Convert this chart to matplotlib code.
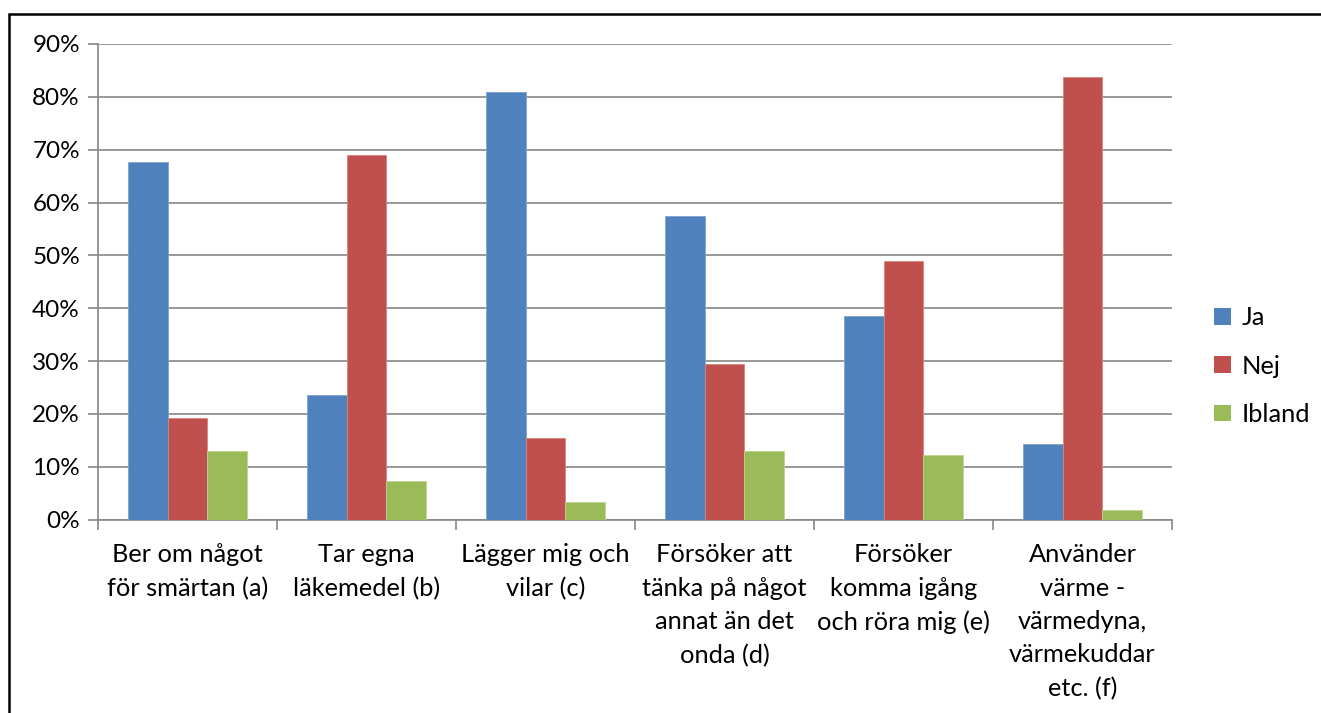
import matplotlib
matplotlib.use("Agg")
import matplotlib.pyplot as plt
import numpy as np
from matplotlib.patches import Rectangle

plt.rcParams['font.family'] = ['Lato', 'DejaVu Sans']

categories = [
    "Ber om något\nför smärtan (a)",
    "Tar egna\nläkemedel (b)",
    "Lägger mig och\nvilar (c)",
    "Försöker att\ntänka på något\nannat än det\nonda (d)",
    "Försöker\nkomma igång\noch röra mig (e)",
    "Använder\nvärme -\nvärmedyna,\nvärmekuddar\netc. (f)",
]
series_names = ["Ja", "Nej", "Ibland"]
ja = [67.7, 23.6, 80.9, 57.4, 38.5, 14.3]
nej = [19.3, 69.0, 15.5, 29.4, 48.9, 83.8]
ibland = [12.9, 7.2, 3.3, 13.0, 12.2, 1.8]
yticks = [0, 10, 20, 30, 40, 50, 60, 70, 80, 90]
colors = ["#4F81BD", "#C0504D", "#9BBB59"]
edge_colors = ["#7FA3D0", "#D88380", "#BCD48F"]

W, H = 1321, 713
fig = plt.figure(figsize=(W / 100, H / 100), dpi=100)
ax = fig.add_axes([98 / W, 1 - 519.5 / H, (1172 - 98) / W, (519.5 - 44) / H])

x = np.arange(len(categories))
width = 1 / 4.5
for i, (vals, name) in enumerate(zip([ja, nej, ibland], series_names)):
    ax.bar(x + (i - 1) * width, vals, width, color=colors[i], label=name,
           edgecolor=edge_colors[i], linewidth=0.6, zorder=3)

ax.set_xlim(-0.5, len(categories) - 0.5)
ax.set_ylim(0, 90)
ax.set_yticks(yticks)
ax.set_yticklabels([f"{v}%" for v in yticks], fontsize=17.5)
ax.yaxis.grid(True, color="#888888", linewidth=1.2, zorder=0)
ax.set_axisbelow(True)

ax.set_xticks(np.arange(-0.5, len(categories), 1))
ax.set_xticklabels([])
ax.set_xticks(x, minor=True)
ax.set_xticklabels(categories, minor=True, fontsize=18.3, linespacing=1.55, va="top")
ax.tick_params(axis="x", which="minor", length=0, pad=17)
ax.tick_params(axis="x", which="major", length=7, width=1.2, color="#888888", direction="out")
ax.tick_params(axis="y", length=7, width=1.2, color="#888888", direction="out", pad=6)

for s in ["top", "right"]:
    ax.spines[s].set_visible(False)
for s in ["left", "bottom"]:
    ax.spines[s].set_color("#888888")
    ax.spines[s].set_linewidth(1.2)

handles, labels = ax.get_legend_handles_labels()
leg = fig.legend(handles, labels, loc="center left",
                 bbox_to_anchor=(1214 / W, 1 - 366 / H), frameon=False,
                 fontsize=18.3, handlelength=0.65, handleheight=0.65,
                 handletextpad=0.45, labelspacing=1.0, borderpad=0,
                 borderaxespad=0)
for h in leg.legend_handles:
    h.set_edgecolor("none")

# outer chart frame
fig.add_artist(Rectangle((8.5 / W, -0.1), 1.2, 1 - 14.5 / H + 0.1,
                         transform=fig.transFigure, fill=False,
                         edgecolor="black", linewidth=1.8))

fig.savefig("out.png", dpi=100)
